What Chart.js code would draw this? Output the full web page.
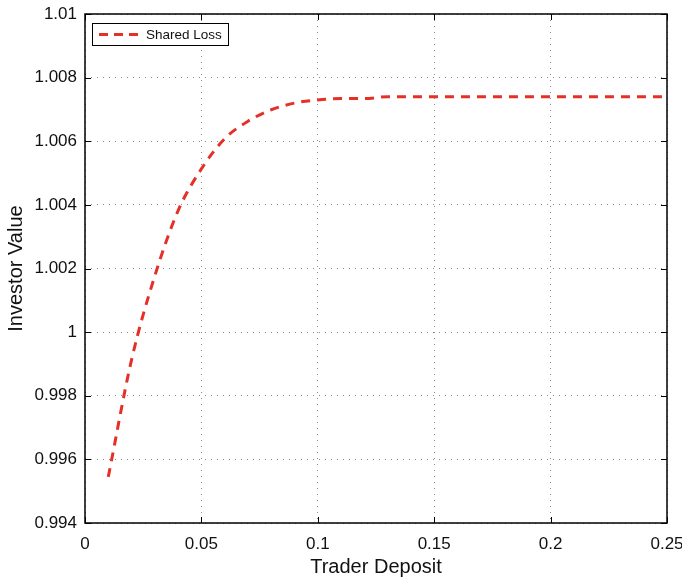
<!DOCTYPE html>
<html lang="en">
<head>
  <meta charset="UTF-8" />
  <title>Investor Value vs Trader Deposit</title>
  <script src="https://cdn.jsdelivr.net/npm/chart.js"></script>
  <style>
    html, body { margin: 0; padding: 0; background: #fff; }
    #wrap { width: 682px; height: 579px; position: relative; }
  </style>
</head>
<body>
  <div id="wrap"><canvas id="chart"></canvas></div>

  <script>
    // data
    const deposit = [0.01, 0.02, 0.03, 0.04, 0.05, 0.06, 0.07, 0.08, 0.09, 0.10, 0.11, 0.12, 0.13,
                     0.14, 0.15, 0.16, 0.17, 0.18, 0.19, 0.20, 0.21, 0.22, 0.23, 0.24, 0.25];
    const sharedLoss = [0.99545, 0.99913, 1.00177, 1.00382, 1.00513, 1.00608, 1.00663, 1.00699, 1.00720,
                        1.00730, 1.00734, 1.00734, 1.00740, 1.00740, 1.00740, 1.00740, 1.00740,
                        1.00740, 1.00740, 1.00740, 1.00740, 1.00740, 1.00740, 1.00740, 1.00740];
    const xTicks = [0, 0.05, 0.1, 0.15, 0.2, 0.25];
    const yTicks = [0.994, 0.996, 0.998, 1, 1.002, 1.004, 1.006, 1.008, 1.01];

    const red = 'rgb(228, 48, 38)';
    const font = "'Liberation Sans', Arial, sans-serif";

    // box frame, inward tick marks and legend box (matlab style)
    const framePlugin = {
      id: 'frame',
      afterDraw(chart) {
        const ctx = chart.ctx;
        const a = chart.chartArea;
        const xs = chart.scales.x, ys = chart.scales.y;
        ctx.save();
        ctx.strokeStyle = '#000';
        ctx.lineWidth = 1;
        ctx.beginPath();
        xTicks.forEach(v => {
          const px = Math.round(xs.getPixelForValue(v)) + 0.5;
          ctx.moveTo(px, a.bottom); ctx.lineTo(px, a.bottom - 6);
          ctx.moveTo(px, a.top); ctx.lineTo(px, a.top + 6);
        });
        yTicks.forEach(v => {
          const py = Math.round(ys.getPixelForValue(v)) + 0.5;
          ctx.moveTo(a.left, py); ctx.lineTo(a.left + 6, py);
          ctx.moveTo(a.right, py); ctx.lineTo(a.right - 6, py);
        });
        ctx.stroke();
        ctx.lineWidth = 1.5;
        ctx.strokeRect(a.left, a.top, a.right - a.left, a.bottom - a.top);

        // legend
        const ds = chart.data.datasets[0];
        const lx = a.left + 7, ly = a.top + 9, lw = 136, lh = 22;
        ctx.fillStyle = '#fff';
        ctx.fillRect(lx, ly, lw, lh);
        ctx.lineWidth = 1;
        ctx.strokeStyle = '#000';
        ctx.strokeRect(lx + 0.5, ly + 0.5, lw, lh);
        ctx.strokeStyle = ds.borderColor;
        ctx.lineWidth = 3;
        ctx.setLineDash([9, 6]);
        ctx.beginPath();
        ctx.moveTo(lx + 7, ly + lh / 2 + 0.5);
        ctx.lineTo(lx + 50, ly + lh / 2 + 0.5);
        ctx.stroke();
        ctx.setLineDash([]);
        ctx.fillStyle = '#111';
        ctx.font = '13.5px ' + font;
        ctx.textBaseline = 'middle';
        ctx.fillText(ds.label, lx + 54, ly + lh / 2 + 1);
        ctx.restore();
      }
    };

    const gridOpts = {
      color: '#8a8a8a',
      lineWidth: 1,
      drawTicks: false
    };

    new Chart(document.getElementById('chart'), {
      type: 'line',
      data: {
        datasets: [{
          label: 'Shared Loss',
          data: deposit.map((d, i) => ({ x: d, y: sharedLoss[i] })),
          borderColor: red,
          borderWidth: 3,
          borderDash: [9, 7],
          pointRadius: 0,
          cubicInterpolationMode: 'monotone',
          fill: false
        }]
      },
      options: {
        responsive: true,
        maintainAspectRatio: false,
        animation: false,
        layout: { padding: { left: 0, top: 14, right: 15, bottom: 0 } },
        plugins: {
          legend: { display: false },
          tooltip: { enabled: false }
        },
        scales: {
          x: {
            type: 'linear',
            min: 0,
            max: 0.25,
            afterBuildTicks: s => { s.ticks = xTicks.map(v => ({ value: v })); },
            afterFit: s => { s.height = 56; s.paddingLeft = 0; s.paddingRight = 0; },
            grid: gridOpts,
            border: { display: false, dash: [1, 5] },
            ticks: {
              color: '#111',
              padding: 11,
              maxRotation: 0,
              font: { family: font, size: 17 },
              callback: v => String(Number(v.toFixed(3)))
            },
            title: {
              display: true,
              text: 'Trader Deposit',
              color: '#111',
              padding: { top: 6, bottom: 0 },
              font: { family: font, size: 20 }
            }
          },
          y: {
            min: 0.994,
            max: 1.01,
            afterBuildTicks: s => { s.ticks = yTicks.map(v => ({ value: v })); },
            afterFit: s => { s.width = 85; s.paddingTop = 0; s.paddingBottom = 0; },
            grid: gridOpts,
            border: { display: false, dash: [1, 5] },
            ticks: {
              color: '#111',
              padding: 8,
              font: { family: font, size: 17 },
              callback: v => String(Number(v.toFixed(3)))
            },
            title: {
              display: true,
              text: 'Investor Value',
              color: '#111',
              padding: { bottom: 2 },
              font: { family: font, size: 20 }
            }
          }
        }
      },
      plugins: [framePlugin]
    });
  </script>
</body>
</html>
